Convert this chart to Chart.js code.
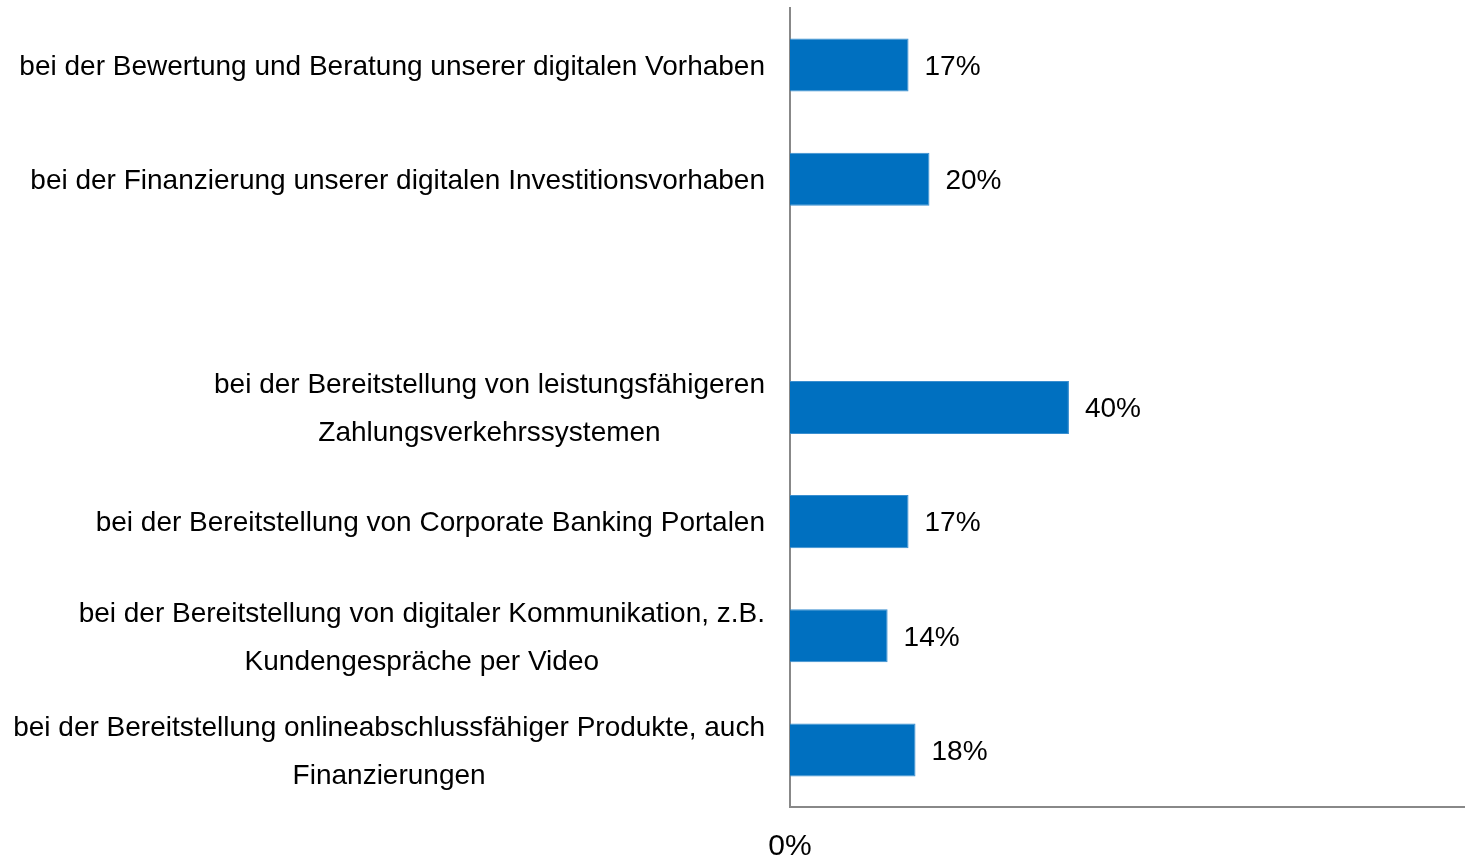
<!DOCTYPE html>
<html>
<head>
<meta charset="utf-8">
<script src="https://cdn.jsdelivr.net/npm/chart.js@4"></script>
<style>
  html, body { margin: 0; padding: 0; background: #fff; }
  #wrap { width: 1465px; height: 858px; }
</style>
</head>
<body>
<div id="wrap"><canvas id="chart"></canvas></div>
<script>
// categories (one empty slot between the two groups)
const categories = [
  ["bei der Bewertung und Beratung unserer digitalen Vorhaben"],
  ["bei der Finanzierung unserer digitalen Investitionsvorhaben"],
  [""],
  ["bei der Bereitstellung von leistungsfähigeren", "Zahlungsverkehrssystemen"],
  ["bei der Bereitstellung von Corporate Banking Portalen"],
  ["bei der Bereitstellung von digitaler Kommunikation, z.B.", "Kundengespräche per Video"],
  ["bei der Bereitstellung onlineabschlussfähiger Produkte, auch", "Finanzierungen"]
];
const values = [17, 20, null, 40, 17, 14, 18];
const xTicks = [0];

const FONT = "'Liberation Sans', Arial, sans-serif";

// Draw the category labels (right-aligned block, lines centered) and value labels
const labelPlugin = {
  id: "labelPlugin",
  afterDraw(chart) {
    const ctx = chart.ctx;
    const yScale = chart.scales.y;
    const xScale = chart.scales.x;
    ctx.save();
    ctx.fillStyle = "#000";
    ctx.font = "28px " + FONT;
    ctx.textBaseline = "middle";

    categories.forEach(function (lines, i) {
      const yc = yScale.getPixelForTick(i) + 2;
      const widths = lines.map(function (l) { return ctx.measureText(l).width; });
      const blockW = Math.max.apply(null, widths);
      const cx = 765 - blockW / 2;
      const lh = 48;
      const y0 = yc - (lines.length - 1) * lh / 2;
      ctx.textAlign = "center";
      lines.forEach(function (l, j) {
        ctx.fillText(l, cx, y0 + j * lh);
      });
    });

    ctx.textAlign = "left";
    values.forEach(function (v, i) {
      if (v === null) return;
      const x = xScale.getPixelForValue(v) + 16;
      const y = yScale.getPixelForTick(i) + 2;
      ctx.fillText(v + "%", x, y);
    });
    ctx.restore();
  }
};

const ctx = document.querySelector("#chart").getContext("2d");
const chart = new Chart(ctx, {
  type: "bar",
  data: {
    labels: categories,
    datasets: [{
      data: values,
      backgroundColor: "#0070C0",
      borderColor: "#3A8FD0",
      borderWidth: 1,
      barPercentage: 0.465,
      categoryPercentage: 1
    }]
  },
  options: {
    indexAxis: "y",
    responsive: true,
    maintainAspectRatio: false,
    animation: false,
    layout: { padding: { top: 8, left: 0, right: 0, bottom: 0 } },
    plugins: {
      legend: { display: false },
      tooltip: { enabled: false }
    },
    scales: {
      x: {
        min: 0,
        max: 96.8,
        afterBuildTicks: function (axis) {
          axis.ticks = xTicks.map(function (v) { return { value: v }; });
        },
        afterFit: function (axis) { axis.height = 51; },
        grid: { display: false, drawTicks: false },
        border: { display: true, color: "#888", width: 2 },
        ticks: {
          padding: 22,
          color: "#000",
          font: { family: FONT, size: 30 },
          maxRotation: 0,
          callback: function (v) { return v + "%"; }
        }
      },
      y: {
        afterFit: function (axis) { axis.width = 790; },
        grid: { display: false, drawTicks: false },
        border: { display: true, color: "#888", width: 2 },
        ticks: { display: false }
      }
    }
  },
  plugins: [labelPlugin]
});
</script>
</body>
</html>
